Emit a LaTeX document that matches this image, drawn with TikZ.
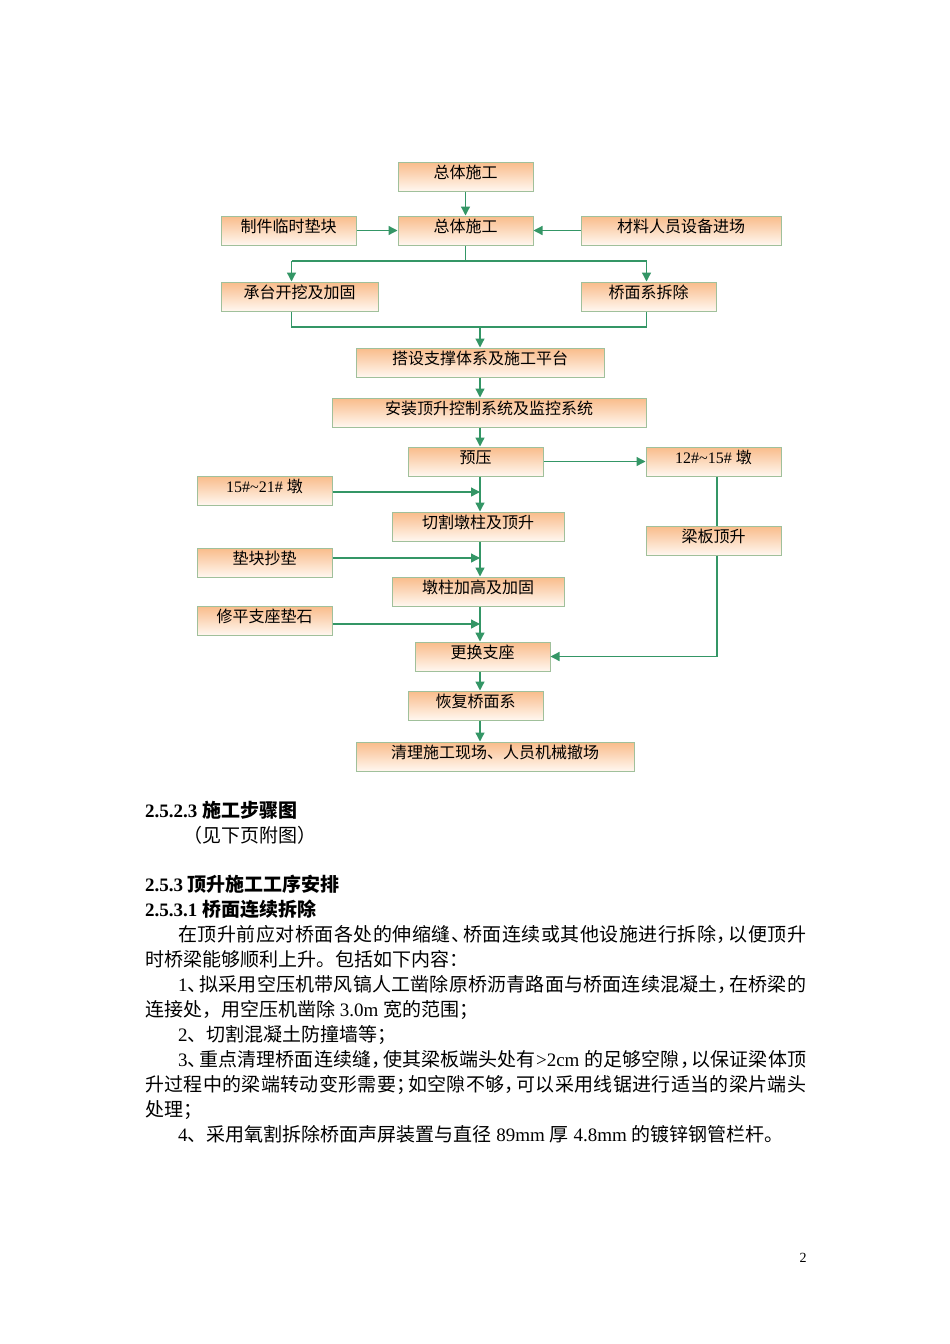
\documentclass[tikz,border=0pt]{standalone}
\usepackage{fontspec}
\setmainfont{Liberation Serif}
\newfontfamily\cjk{Noto Sans CJK SC}
\newfontfamily\lat{Liberation Serif}
\usetikzlibrary{arrows.meta}
\definecolor{boxtop}{RGB}{249,188,138}
\definecolor{boxbot}{RGB}{255,247,240}
\definecolor{boxline}{RGB}{160,192,155}
\definecolor{linegreen}{RGB}{52,150,102}
\newcommand\hp[1]{\makebox[0.6em][l]{#1}}
\makeatletter
\def\spr@end{SPREND}
\newcommand\spreadline[2]{\makebox[#1][s]{\spr@a#2\spr@end}}
\def\spr@a#1{{#1}\spr@b}
\def\spr@b#1{\ifx\spr@end#1\else\hskip 0pt plus 1fil{#1}\expandafter\spr@b\fi}
\makeatother
\tikzset{
  flowbox/.style={draw=boxline, line width=1pt, top color=boxtop, bottom color=boxbot,
    inner sep=0pt, minimum height=29pt, text height=10pt, text depth=6.8pt,
    font=\cjk\fontsize{16}{16}\selectfont},
  arr/.style={draw=linegreen, line width=1.3pt, -{Triangle[length=9pt,width=9pt]}},
  ln/.style={draw=linegreen, line width=1.3pt},
  txt/.style={anchor=base west, inner sep=0pt, font=\cjk\fontsize{19}{19}\selectfont},
}
\begin{document}
\begin{tikzpicture}[x=1pt,y=-1pt]
\fill[white] (0,0) rectangle (950,1344);
\useasboundingbox (0,0) rectangle (950,1344);
% boxes
\node[flowbox, minimum width=135pt] (b1) at (465.5,176.5) {总体施工};
\node[flowbox, minimum width=135pt] (b2) at (465.5,230.5) {总体施工};
\node[flowbox, minimum width=135pt] (b3) at (288.5,230.5) {制件临时垫块};
\node[flowbox, minimum width=200pt] (b4) at (681,230.5) {材料人员设备进场};
\node[flowbox, minimum width=157pt] (b5) at (299.5,296.5) {承台开挖及加固};
\node[flowbox, minimum width=135pt] (b6) at (648.5,296.5) {桥面系拆除};
\node[flowbox, minimum width=248pt] (b7) at (480,362.5) {搭设支撑体系及施工平台};
\node[flowbox, minimum width=314pt] (b8) at (489,412.5) {安装顶升控制系统及监控系统};
\node[flowbox, minimum width=135pt] (b9) at (475.5,461.5) {预压};
\node[flowbox, minimum width=135pt] (b10) at (713.5,461.5) {{\lat 12\#\textasciitilde15\# }墩};
\node[flowbox, minimum width=135pt] (b11) at (713.5,540.5) {梁板顶升};
\node[flowbox, minimum width=135pt] (b12) at (264.5,490.5) {{\lat 15\#\textasciitilde21\# }墩};
\node[flowbox, minimum width=172pt] (b13) at (478,526.5) {切割墩柱及顶升};
\node[flowbox, minimum width=135pt] (b14) at (264.5,562.5) {垫块抄垫};
\node[flowbox, minimum width=172pt] (b15) at (478,591.5) {墩柱加高及加固};
\node[flowbox, minimum width=135pt] (b16) at (264.5,620.5) {修平支座垫石};
\node[flowbox, minimum width=135pt] (b17) at (482.5,656.5) {更换支座};
\node[flowbox, minimum width=135pt] (b18) at (475.5,705.5) {恢复桥面系};
\node[flowbox, minimum width=278pt] (b19) at (495,756.5) {清理施工现场、人员机械撤场};
% helper coordinates
\coordinate (cx) at (480,0);
\coordinate (j1) at (465.5,261);
\coordinate (jl) at (291.5,261);
\coordinate (jr) at (646.5,261);
\coordinate (m1) at (291.5,327);
\coordinate (m2) at (646.5,327);
\coordinate (mc) at (480,327);
\coordinate (rt) at (717,656.5);
\coordinate (a12) at (480,492);
\coordinate (a14) at (480,558);
\coordinate (a16) at (480,624);
% connectors
\draw[arr] (b1) -- (b2);
\draw[arr] (b3) -- (b2);
\draw[arr] (b4) -- (b2);
\draw[ln] (b2.south) -- (j1);
\draw[ln] (jl) -- (jr);
\draw[arr] (jl) -- (b5.north -| jl);
\draw[arr] (jr) -- (b6.north -| jr);
\draw[ln] (b5.south -| m1) -- (m1) -- (m2) -- (b6.south -| m2);
\draw[arr] (mc) -- (b7.north -| mc);
\draw[arr] (b7.south -| cx) -- (b8.north -| cx);
\draw[arr] (b8.south -| cx) -- (b9.north -| cx);
\draw[arr] (b9) -- (b10);
\draw[ln] (b10.south -| rt) -- (b11.north -| rt);
\draw[arr] (b11.south -| rt) -- (rt) -- (b17.east);
\draw[arr] (b9.south -| cx) -- (b13.north -| cx);
\draw[arr] (b12.east |- a12) -- (a12);
\draw[arr] (b13.south -| cx) -- (b15.north -| cx);
\draw[arr] (b14.east |- a14) -- (a14);
\draw[arr] (b15.south -| cx) -- (b17.north -| cx);
\draw[arr] (b16.east |- a16) -- (a16);
\draw[arr] (b17.south -| cx) -- (b18.north -| cx);
\draw[arr] (b18.south -| cx) -- (b19.north -| cx);
% text
\node[txt] (h1) at (145,817) {{\lat\bfseries 2.5.2.3 }{\bfseries 施工步骤图}};
\node[txt] (h1a) at (183,842) {（见下页附图）};
\node[txt] (h2) at (145,891) {{\lat\bfseries 2.5.3 }{\bfseries 顶升施工工序安排}};
\node[txt] (h3) at (145,916) {{\lat\bfseries 2.5.3.1 }{\bfseries 桥面连续拆除}};
\node[txt] (p1) at (178,941) {\spreadline{628pt}{在顶升前应对桥面各处的伸缩缝{\hp{、}}桥面连续或其他设施进行拆除{\hp{，}}以便顶升}};
\node[txt] (p2) at (145,966) {时桥梁能够顺利上升。包括如下内容：};
\node[txt] (p3) at (178,991) {\spreadline{628pt}{{\lat 1}{\hp{、}}拟采用空压机带风镐人工凿除原桥沥青路面与桥面连续混凝土{\hp{，}}在桥梁的}};
\node[txt] (p4) at (145,1016) {连接处，用空压机凿除{\lat\ 3.0m }宽的范围；};
\node[txt] (p5) at (178,1041) {{\lat 2}、切割混凝土防撞墙等；};
\node[txt] (p6) at (178,1066) {\spreadline{628pt}{{\lat 3}{\hp{、}}重点清理桥面连续缝{\hp{，}}使其梁板端头处有{\lat >2cm }的足够空隙{\hp{，}}以保证梁体顶}};
\node[txt] (p7) at (145,1091) {\spreadline{661pt}{升过程中的梁端转动变形需要{\hp{；}}如空隙不够{\hp{，}}可以采用线锯进行适当的梁片端头}};
\node[txt] (p8) at (145,1116) {处理；};
\node[txt] (p9) at (178,1141) {{\lat 4}、采用氧割拆除桥面声屏装置与直径{\lat\ 89mm }厚{\lat\ 4.8mm }的镀锌钢管栏杆。};
\node[anchor=base, inner sep=0pt, font=\lat\fontsize{14}{14}\selectfont] (pg) at (803,1262) {2};
\end{tikzpicture}
\end{document}
